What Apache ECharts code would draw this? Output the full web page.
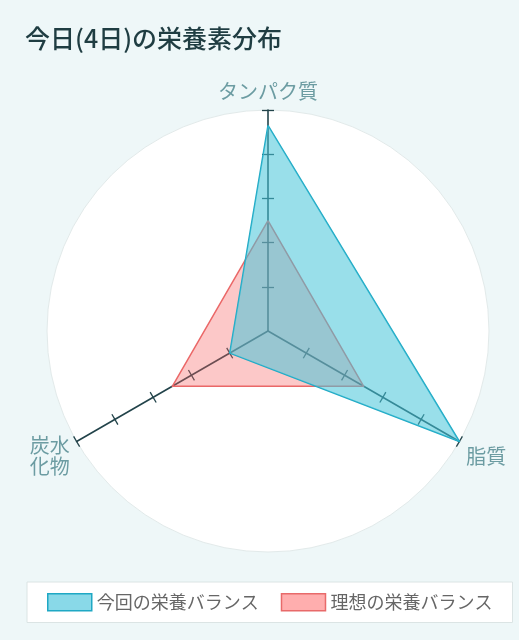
<!DOCTYPE html>
<html>
<head>
<meta charset="utf-8">
<script src="https://cdn.jsdelivr.net/npm/echarts@6/dist/echarts.min.js"></script>
<style>
html,body{margin:0;padding:0;background:#eef7f8;}
#chart{width:519px;height:640px;}
</style>
</head>
<body>
<div id="chart"></div>
<script>
const titleText = '今日(4日)の栄養素分布';
const categories = ['タンパク質', '炭水\n化物', '脂質'];
const maxValues = [100, 100, 100];
const tickValues = [20, 40, 60, 80, 100];
const currentName = '今回の栄養バランス';
const idealName = '理想の栄養バランス';
const currentValues = [93, 20, 100];
const idealValues = [50, 50, 50];

const FONT = '"Noto Sans CJK JP", "Noto Sans", sans-serif';
const axisColor = '#22434a';
const blueLine = '#1fa8c4';
const blueFill = 'rgba(70,197,217,0.55)';
const redLine = '#e86a6a';
const redFill = 'rgba(246,98,98,0.35)';

const indicators = categories.map((n, i) => ({ name: n, max: maxValues[i], min: 0 }));
const center = [268, 331];
const radius = 221;

const chart = echarts.init(document.getElementById('chart'), null, { renderer: 'canvas' });
chart.setOption({
  backgroundColor: '#eef7f8',
  animation: false,
  title: {
    text: titleText,
    left: 20,
    top: 21,
    textStyle: { fontFamily: FONT, fontSize: 25, fontWeight: 500, color: '#1f3d42' }
  },
  legend: {
    data: [
      { name: currentName, itemStyle: { color: 'rgba(59,191,217,0.6)', borderColor: blueLine, borderWidth: 1.5 } },
      { name: idealName, itemStyle: { color: 'rgba(255,107,107,0.55)', borderColor: redLine, borderWidth: 1.5 } }
    ],
    left: 27,
    top: 582,
    icon: 'rect',
    itemWidth: 44,
    itemHeight: 17,
    itemGap: 22,
    padding: [11, 20],
    backgroundColor: '#ffffff',
    borderColor: '#dbe4e4',
    borderWidth: 1,
    textStyle: { fontFamily: FONT, fontSize: 18, color: '#666666' }
  },
  radar: [
    {
      center: center, radius: radius, startAngle: 90, shape: 'circle', splitNumber: 5,
      indicator: indicators,
      axisName: {
        show: true, color: '#6c9ca2', fontFamily: FONT, fontSize: 20, lineHeight: 21,
        formatter: function (name) { return name === categories[0] ? name : '\n' + name; }
      },
      nameGap: 8,
      splitArea: { show: false },
      splitLine: { show: false },
      axisLine: { show: true, lineStyle: { color: axisColor, width: 1.6 } },
      axisTick: { show: true, customValues: tickValues, length: 6, lineStyle: { color: axisColor, width: 1.3 } }
    },
    {
      center: center, radius: radius, startAngle: 90, shape: 'circle', splitNumber: 1,
      indicator: indicators,
      axisName: { show: false },
      splitArea: { show: true, areaStyle: { color: ['#ffffff'] } },
      splitLine: { show: true, lineStyle: { color: '#e2eaea', width: 1 } },
      axisLine: { show: false },
      axisTick: { show: false }
    },
    {
      center: center, radius: radius, startAngle: 90, shape: 'circle', splitNumber: 5,
      indicator: indicators,
      axisName: { show: false },
      splitArea: { show: false },
      splitLine: { show: false },
      axisLine: { show: true, lineStyle: { color: axisColor, width: 1, opacity: 0 } },
      axisTick: { show: true, customValues: tickValues, length: -6, lineStyle: { color: axisColor, width: 1.3, opacity: 1 } }
    }
  ],
  series: [
    {
      type: 'radar',
      radarIndex: 0,
      z: 2,
      symbol: 'none',
      data: [{ name: idealName, value: idealValues,
        lineStyle: { color: redLine, width: 1.5 },
        areaStyle: { color: redFill, opacity: 1 },
        itemStyle: { color: redLine } }]
    },
    {
      type: 'radar',
      radarIndex: 0,
      z: 3,
      symbol: 'none',
      data: [{ name: currentName, value: currentValues,
        lineStyle: { color: blueLine, width: 1.5 },
        areaStyle: { color: blueFill, opacity: 1 },
        itemStyle: { color: blueLine } }]
    }
  ]
});
</script>
</body>
</html>
